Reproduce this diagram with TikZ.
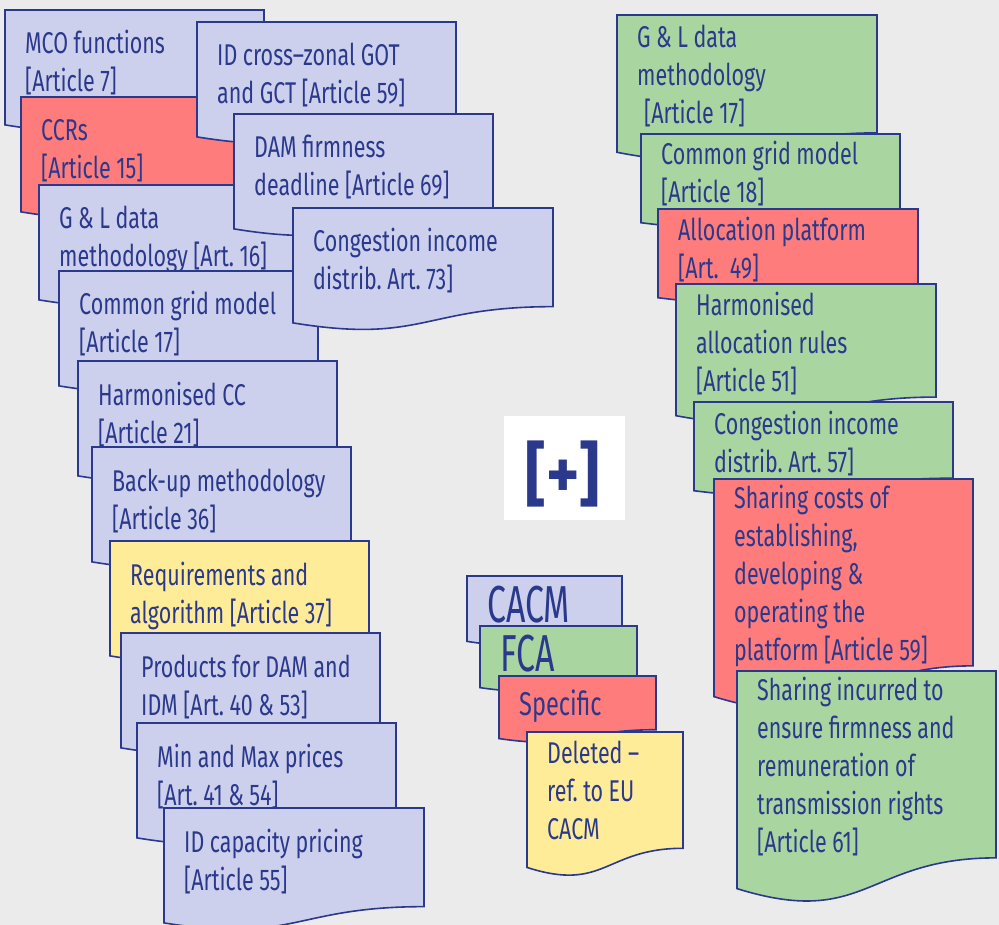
\documentclass[tikz,border=0pt]{standalone}
\usepackage{fontspec}
\newfontfamily\agency{Fira Sans}[FakeStretch=0.715]
\newfontfamily\agencybig{Fira Sans}[FakeStretch=0.65]
\newfontfamily\plusfont{Fira Sans}[FakeStretch=0.9]
\frenchspacing
\newcommand\tightsp{\spaceskip=5.5pt plus 2pt minus 1pt\relax}
\definecolor{bgcol}{RGB}{235,235,235}
\definecolor{bord}{RGB}{43,57,140}
\definecolor{txt}{RGB}{43,57,140}
\definecolor{lav}{RGB}{204,208,236}
\definecolor{redf}{RGB}{255,124,124}
\definecolor{grnf}{RGB}{169,213,160}
\definecolor{yelf}{RGB}{255,236,153}
\tikzset{
  docpath/.style={draw=bord, line width=1.6pt, line join=miter},
  doctext/.style={text=txt, font=\agency\fontsize{30}{38}\selectfont, align=left, text width=330pt, inner sep=0pt, anchor=base west},
  bigtext/.style={doctext, font=\agencybig\fontsize{52}{60}\selectfont},
  midtext/.style={doctext, font=\agency\fontsize{33}{40}\selectfont},
}
% #1 name, #2 x, #3 y, #4 w, #5 h, #6 fill, #7 baseline offset, #8 style, #9 text
\newcommand\docbox[9]{%
  \path[docpath, fill=#6] (#2,#3) -- ({#2+#4},#3) -- ({#2+#4},{#3+0.802*#5})
    .. controls ({#2+0.5*#4},{#3+0.802*#5}) and ({#2+0.5*#4},{#3+1.107*#5}) .. (#2,{#3+0.934*#5}) -- cycle;
  \node[#8] (#1) at ({#2+20},{#3+#7}) {\tightsp #9};
}
\begin{document}
\begin{tikzpicture}[x=1pt,y=-1pt]
\useasboundingbox (0,0) rectangle (999,925);
\fill[bgcol] (0,0) rectangle (999,925);
% left column
\docbox{mco}{5}{10}{259}{123}{lav}{44}{doctext}{MCO functions\\{}[Article 7]}
\docbox{ccr}{21}{97}{259}{123}{redf}{44}{doctext}{CCRs\\{}[Article 15]}
\docbox{idx}{197}{22}{259}{123}{lav}{44}{doctext}{ID cross–zonal GOT\\and GCT [Article 59]}
\docbox{gl}{39}{185}{259}{123}{lav}{44}{doctext}{G \& L data\\methodology [Art. 16]}
\docbox{cgm}{59}{271}{259}{123}{lav}{44}{doctext}{Common grid model\\{}[Article 17]}
\docbox{hcc}{78}{361}{259}{123}{lav}{44}{doctext}{Harmonised CC\\{}[Article 21]}
\docbox{bkp}{92}{447}{259}{123}{lav}{44}{doctext}{Back-up methodology\\{}[Article 36]}
\docbox{req}{110}{541}{259}{123}{yelf}{44}{doctext}{Requirements and\\algorithm [Article 37]}
\docbox{prd}{121}{633}{259}{123}{lav}{44}{doctext}{Products for DAM and\\IDM [Art. 40 \& 53]}
\docbox{mmp}{137}{723}{259}{123}{lav}{44}{doctext}{Min and Max prices\\{}[Art. 41 \& 54]}
\docbox{idc}{164}{808}{260}{123}{lav}{44}{doctext}{ID capacity pricing\\{}[Article 55]}
\docbox{dam}{234}{114}{259}{123}{lav}{44}{doctext}{DAM firmness\\deadline [Article 69]}
\docbox{cin}{293}{208}{260}{123}{lav}{44}{doctext}{Congestion income\\distrib. Art. 73]}
% right column
\docbox{rgl}{617}{15}{260}{147}{grnf}{33}{doctext}{G \& L data\\methodology\\\hspace*{7pt}[Article 17]}
\docbox{rcgm}{641}{134}{259}{95}{grnf}{31}{doctext}{Common grid model\\{}[Article 18]}
\docbox{rap}{658}{209}{260}{95}{redf}{32}{doctext}{Allocation platform\\{}[Art.\ \ 49]}
\docbox{rhar}{676}{284}{260}{141}{grnf}{32}{doctext}{Harmonised\\allocation rules\\{}[Article 51]}
\docbox{rcin}{694}{402}{259}{95}{grnf}{32}{doctext}{Congestion income\\distrib. Art. 57]}
\docbox{rsc}{714}{479}{259}{233}{redf}{29}{doctext}{Sharing costs of\\establishing,\\developing \&\\operating the\\platform [Article 59]}
\docbox{rsi}{737}{671}{259}{233}{grnf}{29}{doctext}{Sharing incurred to\\ensure firmness and\\remuneration of\\transmission rights\\{}[Article 61]}
% legend
\node[fill=white, inner sep=0pt, minimum width=121pt, minimum height=104pt] (plusbox) at (564.5,468) {};
\node[text=txt, font=\plusfont\bfseries\fontsize{70}{76}\selectfont, inner sep=0pt] (plus) at (563,474) {[+]};
\docbox{lcacm}{467}{576}{155}{70}{lav}{46}{bigtext}{CACM}
\docbox{lfca}{480}{626}{157}{66}{grnf}{45}{bigtext}{FCA}
\docbox{lspec}{499}{676}{157}{67}{redf}{39}{midtext}{Specific}
\docbox{ldel}{527}{732}{156}{145}{yelf}{31}{doctext}{Deleted –\\ref. to EU\\CACM}
\end{tikzpicture}
\end{document}
